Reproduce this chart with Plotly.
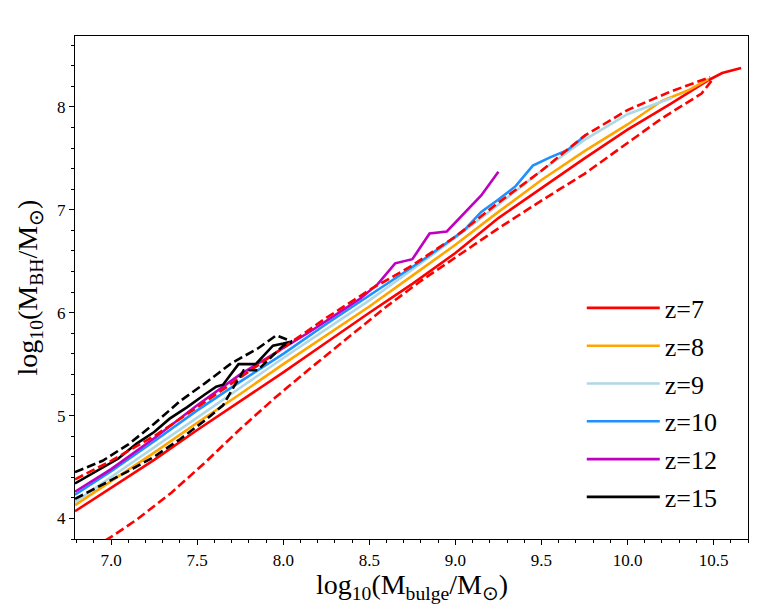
import plotly.graph_objects as go

# z=7 median and the two dashed bounds
x_z7 = [6.79, 7.0, 7.25, 7.5, 7.75, 8.0, 8.25, 8.5, 8.75, 9.0, 9.25, 9.5, 9.75, 10.0, 10.25, 10.47, 10.55, 10.66]
y_z7 = [4.07, 4.30, 4.57, 4.86, 5.14, 5.42, 5.71, 6.00, 6.28, 6.58, 6.92, 7.21, 7.50, 7.78, 8.03, 8.26, 8.33, 8.38]
x_z7_lo = [6.9, 7.0, 7.15, 7.35, 7.55, 7.75, 7.95, 8.15, 8.4, 8.6, 8.8, 9.0, 9.25, 9.5, 9.75, 10.0, 10.2, 10.43, 10.5]
y_z7_lo = [3.72, 3.82, 3.99, 4.25, 4.55, 4.87, 5.17, 5.45, 5.79, 6.06, 6.31, 6.54, 6.82, 7.09, 7.35, 7.65, 7.89, 8.13, 8.28]
x_z7_hi = [6.79, 7.0, 7.25, 7.5, 7.75, 8.0, 8.25, 8.5, 8.75, 9.0, 9.25, 9.5, 9.75, 10.0, 10.25, 10.48]
y_z7_hi = [4.38, 4.56, 4.80, 5.08, 5.37, 5.66, 5.95, 6.22, 6.46, 6.74, 7.07, 7.38, 7.72, 7.97, 8.15, 8.29]

x_z8 = [6.79, 7.0, 7.25, 7.5, 7.75, 8.0, 8.25, 8.5, 8.75, 9.0, 9.25, 9.5, 9.75, 10.0, 10.2, 10.35, 10.47]
y_z8 = [4.13, 4.36, 4.64, 4.93, 5.21, 5.50, 5.78, 6.06, 6.36, 6.66, 6.98, 7.29, 7.57, 7.83, 8.06, 8.16, 8.27]

x_z9 = [6.79, 7.0, 7.25, 7.5, 7.75, 8.0, 8.25, 8.5, 8.75, 9.0, 9.25, 9.5, 9.75, 10.0, 10.26]
y_z9 = [4.16, 4.40, 4.69, 4.98, 5.27, 5.56, 5.84, 6.12, 6.42, 6.73, 7.05, 7.38, 7.68, 7.93, 8.09]

x_z10 = [6.79, 7.0, 7.25, 7.5, 7.75, 8.0, 8.25, 8.5, 8.65, 8.8, 8.95, 9.05, 9.15, 9.25, 9.35, 9.45, 9.55, 9.65, 9.76]
y_z10 = [4.23, 4.46, 4.75, 5.05, 5.33, 5.60, 5.89, 6.17, 6.33, 6.50, 6.68, 6.80, 6.98, 7.10, 7.23, 7.43, 7.51, 7.58, 7.73]

x_z12 = [6.79, 7.0, 7.25, 7.5, 7.75, 8.0, 8.15, 8.35, 8.45, 8.55, 8.65, 8.75, 8.85, 8.95, 9.05, 9.15, 9.25]
y_z12 = [4.26, 4.48, 4.78, 5.10, 5.40, 5.66, 5.81, 6.03, 6.14, 6.28, 6.48, 6.52, 6.77, 6.79, 6.96, 7.14, 7.37]

x_z15 = [6.79, 6.96, 7.04, 7.15, 7.25, 7.34, 7.44, 7.54, 7.61, 7.65, 7.69, 7.74, 7.84, 7.94, 8.0, 8.05]
y_z15 = [4.34, 4.50, 4.58, 4.73, 4.84, 4.97, 5.08, 5.20, 5.28, 5.30, 5.39, 5.50, 5.50, 5.68, 5.70, 5.72]
x_z15_lo = [6.79, 6.95, 7.1, 7.25, 7.4, 7.55, 7.65, 7.72, 7.77, 7.85, 7.93, 8.0, 8.05]
y_z15_lo = [4.19, 4.33, 4.46, 4.60, 4.77, 4.96, 5.10, 5.30, 5.44, 5.44, 5.57, 5.68, 5.71]
x_z15_hi = [6.79, 6.95, 7.1, 7.25, 7.4, 7.55, 7.7, 7.85, 7.96, 8.05]
y_z15_hi = [4.45, 4.56, 4.72, 4.92, 5.14, 5.32, 5.51, 5.65, 5.78, 5.72]

FONT = "Liberation Serif"
LW = 2.6

fig = go.Figure()

solid = [
    ("z=7", x_z7, y_z7, "#FF0000"),
    ("z=8", x_z8, y_z8, "#FFA500"),
    ("z=9", x_z9, y_z9, "#ADD8E6"),
    ("z=10", x_z10, y_z10, "#1E90FF"),
    ("z=12", x_z12, y_z12, "#BF00BF"),
    ("z=15", x_z15, y_z15, "#000000"),
]
for name, xs, ys, col in solid:
    fig.add_trace(go.Scatter(x=xs, y=ys, mode="lines", name=name, legendgroup=name,
                             line=dict(color=col, width=LW)))

dashed = [
    ("z=7", x_z7_lo, y_z7_lo, "#FF0000"),
    ("z=7", x_z7_hi, y_z7_hi, "#FF0000"),
    ("z=15", x_z15_lo, y_z15_lo, "#000000"),
    ("z=15", x_z15_hi, y_z15_hi, "#000000"),
]
for name, xs, ys, col in dashed:
    fig.add_trace(go.Scatter(x=xs, y=ys, mode="lines", legendgroup=name, showlegend=False,
                             line=dict(color=col, width=LW, dash="9px,4px")))

axis_common = dict(
    showline=True, linecolor="black", linewidth=1.2, mirror=True,
    showgrid=False, zeroline=False, automargin=False,
    ticks="outside", ticklen=5, tickwidth=1, tickcolor="black",
    tickfont=dict(family=FONT, size=17, color="black"),
)

fig.update_xaxes(
    range=[6.79, 10.70], tick0=7.0, dtick=0.5, tickformat=".1f",
    minor=dict(dtick=0.1, ticks="outside", ticklen=3, tickcolor="black"),
    **axis_common,
)
fig.update_yaxes(
    range=[3.80, 8.69], tick0=4, dtick=1,
    minor=dict(dtick=0.2, ticks="outside", ticklen=3, tickcolor="black"),
    **axis_common,
)

title_font = dict(family=FONT, size=28, color="black")
fig.add_annotation(text="log<sub>10</sub>(M<sub>bulge</sub>/M<sub>⊙</sub>)",
                   xref="paper", yref="paper", x=0.5, y=-0.094,
                   xanchor="center", yanchor="middle", showarrow=False, font=title_font)
fig.add_annotation(text="log<sub>10</sub>(M<sub>BH</sub>/M<sub>⊙</sub>)",
                   xref="paper", yref="paper", x=-0.067, y=0.5, textangle=-90,
                   xanchor="center", yanchor="middle", showarrow=False, font=title_font)

# page has an 8px body margin, so the figure is offset by it
fig.update_layout(
    width=765, height=604,
    margin=dict(l=67, r=25, t=28, b=73),
    plot_bgcolor="white", paper_bgcolor="white",
    legend=dict(x=0.753, y=0.506, xanchor="left", yanchor="top",
                font=dict(family=FONT, size=26, color="black"),
                traceorder="grouped", tracegroupgap=1,
                bgcolor="rgba(0,0,0,0)", borderwidth=0, itemwidth=73),
)

fig.write_html("out.html")
